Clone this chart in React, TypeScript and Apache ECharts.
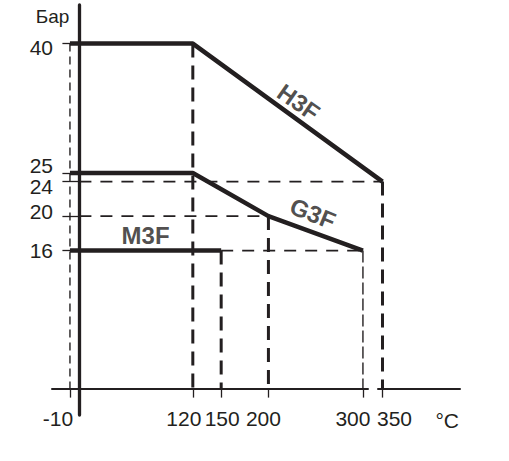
import React, { useEffect, useRef } from 'react';
import * as echarts from 'echarts';

// ---- data ----
const xTicks = [-10, 120, 150, 200, 300, 350];
const yTicks = [16, 20, 24, 25, 40];

const h3f = [[-10, 40], [120, 40], [350, 24]];
const g3f = [[-10, 25], [120, 25], [200, 20], [300, 16]];
const m3f = [[-10, 16], [150, 16]];

const curveNames = ['H3F', 'G3F', 'M3F'];
const curveLabelPoints = [[232, 33.2], [247, 20.3], [70, 17.8]];

// dashed guide segments
const guidesThick = [
  [[120, 40], [120, 0]],
  [[150, 16], [150, 0]],
  [[200, 20], [200, 0]],
  [[350, 24], [350, 0]],
];
const guidesThin = [
  [[0, 24], [350, 24]],
  [[0, 20], [200, 20]],
  [[150, 16], [300, 16]],
];
const guideMinus10 = [[-10, 40], [-10, 0]];
const guide300 = [[300, 16], [300, 0]];

// ---- styles ----
const INK = '#231f20';
const FONT = '"Liberation Sans", Arial, sans-serif';
const xLabelShift = [-12, -9, 1, -5, -10, 12];
const yLabelShift = [0, -4.5, 4.5, -7, 4];
const labelRotate = [-35, -22, 0];

export default function App() {
  const ref = useRef<HTMLDivElement>(null);

  useEffect(() => {
    if (!ref.current) return;
    const chart = echarts.init(ref.current, null, { renderer: 'svg' });

    const xRich: Record<string, any> = {};
    xTicks.forEach((v, i) => {
      const s = xLabelShift[i];
      xRich['x' + i] = {
        fontSize: 21, color: INK, fontFamily: FONT,
        padding: s < 0 ? [0, -2 * s, 0, 0] : [0, 0, 0, 2 * s],
      };
    });
    const yRich: Record<string, any> = {};
    yTicks.forEach((v, i) => {
      const s = yLabelShift[i];
      yRich['y' + i] = {
        fontSize: 21, color: INK, fontFamily: FONT,
        padding: s < 0 ? [0, 0, -2 * s, 0] : [2 * s, 0, 0, 0],
      };
    });

    const guideSeries: any[] = [];
    guidesThick.forEach((seg) => {
      guideSeries.push({
        type: 'line', data: seg, symbol: 'none', silent: true, z: 1,
        lineStyle: { color: INK, width: 3, type: [14, 8] },
      });
    });
    guidesThin.forEach((seg) => {
      guideSeries.push({
        type: 'line', data: seg, symbol: 'none', silent: true, z: 1,
        lineStyle: { color: INK, width: 1.6, type: [12, 9] },
      });
    });
    guideSeries.push({
      type: 'line', data: guideMinus10, symbol: 'none', silent: true, z: 1,
      lineStyle: { color: INK, width: 1.4, type: [8, 5] },
    });
    guideSeries.push({
      type: 'line', data: guide300, symbol: 'none', silent: true, z: 1,
      lineStyle: { color: INK, width: 1.4, type: [12, 4] },
    });

    const curveStyle = { color: INK, width: 4.5 };

    chart.setOption({
      animation: false,
      grid: { left: 52, right: 49, top: 5, bottom: 46 },
      xAxis: {
        type: 'value',
        min: -29,
        max: 432,
        breaks: [{ start: 305, end: 345, gap: 10.7 }],
        breakArea: { show: false },
        name: '{c|°C}',
        nameLocation: 'end',
        nameGap: -1,
        nameTextStyle: {
          align: 'right', verticalAlign: 'middle',
          rich: { c: { fontSize: 21, color: INK, fontFamily: FONT, padding: [64, 0, 0, 0] } },
        },
        axisLine: { onZero: true, lineStyle: { color: INK, width: 2 } },
        axisTick: { show: true, customValues: xTicks, length: 9, lineStyle: { color: INK, width: 1.3 } },
        axisLabel: {
          customValues: xTicks,
          margin: -7,
          formatter: (v: number) => {
            const i = xTicks.indexOf(v);
            return i >= 0 ? `{x${i}|${v}}` : '';
          },
          rich: xRich,
        },
        splitLine: { show: false },
      },
      yAxis: {
        type: 'value',
        min: -3.06,
        max: 44.47,
        name: 'Бар',
        nameLocation: 'end',
        nameGap: -11,
        nameTextStyle: {
          fontSize: 19, color: INK, fontFamily: FONT,
          align: 'right', verticalAlign: 'middle', padding: [0, 10, 0, 0],
        },
        axisLine: { show: true, onZero: true, lineStyle: { color: INK, width: 3.3 } },
        axisTick: { show: true, customValues: yTicks, length: 17, lineStyle: { color: INK, width: 1.3 } },
        axisLabel: {
          customValues: yTicks,
          margin: -1,
          formatter: (v: number) => {
            const i = yTicks.indexOf(v);
            return i >= 0 ? `{y${i}|${v}}` : '';
          },
          rich: yRich,
        },
        splitLine: { show: false },
      },
      series: [
        ...guideSeries,
        { name: 'H3F', type: 'line', data: h3f, symbol: 'none', z: 3, lineStyle: curveStyle },
        { name: 'G3F', type: 'line', data: g3f, symbol: 'none', z: 3, lineStyle: curveStyle },
        { name: 'M3F', type: 'line', data: m3f, symbol: 'none', z: 3, lineStyle: curveStyle },
        {
          type: 'scatter',
          symbolSize: 0,
          silent: true,
          z: 4,
          data: curveNames.map((n, i) => ({
            name: n,
            value: curveLabelPoints[i],
            label: { rotate: labelRotate[i] },
          })),
          label: {
            show: true,
            position: 'inside',
            formatter: (p: any) => p.name,
            fontSize: 24,
            fontWeight: 'bold',
            color: INK,
            fontFamily: FONT,
          },
        },
      ],
    });

    return () => chart.dispose();
  }, []);

  return (
    <div
      ref={ref}
      style={{ position: 'fixed', left: 0, top: 0, width: 509, height: 461, background: '#fff' }}
    />
  );
}
